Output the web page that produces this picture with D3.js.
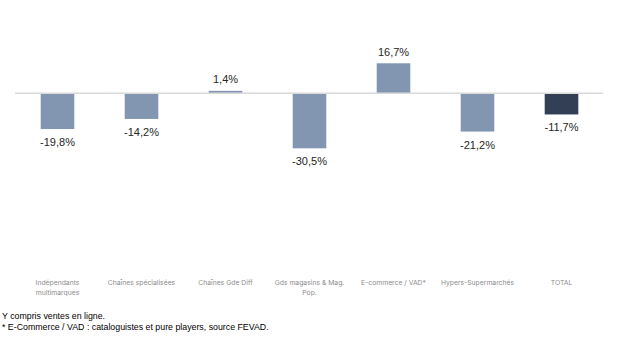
<!DOCTYPE html>
<html><head><meta charset="utf-8">
<script src="https://cdn.jsdelivr.net/npm/d3@7"></script>
<style>body{margin:0;background:#fff;}svg{display:block;}</style>
</head><body>
<script>
const categories = [["Indépendants","multimarques"],["Chaînes spécialisées"],["Chaînes Gde Diff"],["Gds magasins & Mag.","Pop."],["E-commerce / VAD*"],["Hypers-Supermarchés"],["TOTAL"]];
const values = [-19.8, -14.2, 1.4, -30.5, 16.7, -21.2, -11.7];
const valueLabels = ["-19,8%","-14,2%","1,4%","-30,5%","16,7%","-21,2%","-11,7%"];
const notes = ["Y compris ventes en ligne.","* E-Commerce / VAD : cataloguistes et pure players, source FEVAD."];

const W=618,H=338;
const svg=d3.select("body").append("svg").attr("width",W).attr("height",H);
const idx=d3.range(values.length);
const x=d3.scaleBand().domain(idx).range([15.5,603.5]).paddingInner(0.6).paddingOuter(0.3);
const y=d3.scaleLinear().domain([-30.5,16.7]).range([148.3,63.3]);

svg.append("g").selectAll("rect").data(idx).join("rect")
  .attr("x",i=>x(i)).attr("width",x.bandwidth())
  .attr("y",i=>y(Math.max(0,values[i])))
  .attr("height",i=>Math.abs(y(values[i])-y(0)))
  .attr("fill",(d,i)=>i===values.length-1?"#323f54":"#8296b2");

svg.append("line").attr("x1",15).attr("x2",603).attr("y1",y(0)).attr("y2",y(0))
  .attr("stroke","#d9d9d9").attr("stroke-width",1.5);

svg.append("g").selectAll("text").data(idx).join("text")
  .attr("x",i=>x(i)+x.bandwidth()/2)
  .attr("y",i=>values[i]>=0? y(values[i])-7.5 : y(values[i])+17)
  .attr("text-anchor","middle").attr("font-family","Liberation Sans, Arial, sans-serif")
  .attr("font-size",11).attr("fill","#262626").text(i=>valueLabels[i]);

const cg=svg.append("g").attr("font-family","Inter, sans-serif").attr("font-size",6.8).attr("fill","#8c8c8c");
idx.forEach(i=>{
  const t=cg.append("text").attr("x",x(i)+x.bandwidth()/2).attr("y",285).attr("text-anchor","middle");
  categories[i].forEach((ln,k)=>t.append("tspan").attr("x",x(i)+x.bandwidth()/2).attr("dy",k?10:0).text(ln));
});

svg.append("g").selectAll("text").data(notes).join("text")
  .attr("x",2).attr("y",(d,i)=>319+i*11).attr("font-family","Liberation Sans, Arial, sans-serif")
  .attr("font-size",8.8).attr("fill","#000").text(d=>d);
</script>
</body></html>
